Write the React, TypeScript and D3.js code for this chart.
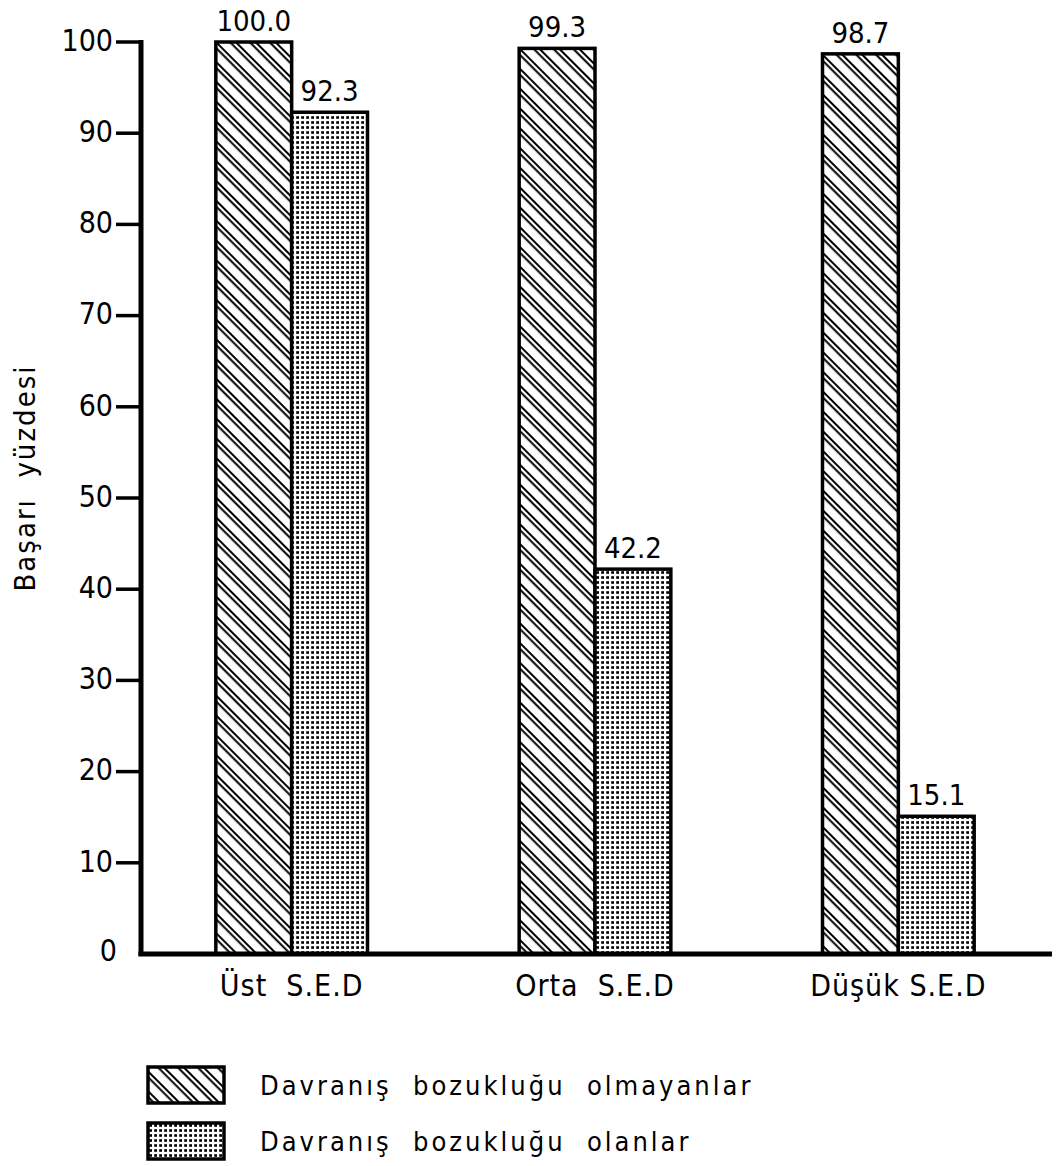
import React from "react";
import * as d3 from "d3";

const categories = ["Üst  S.E.D", "Orta  S.E.D", "Düşük S.E.D"];
const seriesNames = ["Davranış  bozukluğu  olmayanlar", "Davranış  bozukluğu  olanlar"];
const withoutDisorder = [100.0, 99.3, 98.7];
const withDisorder = [92.3, 42.2, 15.1];
const valueLabels = [["100.0", "92.3"], ["99.3", "42.2"], ["98.7", "15.1"]];
const yTicks = [0, 10, 20, 30, 40, 50, 60, 70, 80, 90, 100];

const W = 1056;
const H = 1166;
const FONT = "'DejaVu Sans Condensed', 'DejaVu Sans', sans-serif";

export default function App() {
  const x0 = 141;
  const xEnd = 1052;
  const y = d3.scaleLinear().domain([0, 100]).range([954, 42]);
  const xBand = d3
    .scaleBand()
    .domain(categories)
    .range([140, 1050])
    .paddingInner(0.5)
    .paddingOuter(0.25);
  const inner = d3.scaleBand().domain(["a", "b"]).range([0, xBand.bandwidth()]);
  const series = [withoutDisorder, withDisorder];
  const fills = ["url(#hatch)", "url(#dots)"];

  return (
    <svg width={W} height={H} style={{ display: "block", position: "absolute", left: 0, top: 0, background: "#fff" }}>
      <defs>
        <pattern id="hatch" patternUnits="userSpaceOnUse" width="20" height="14" patternTransform="rotate(45)">
          <rect width="20" height="14" fill="#fff" />
          <line x1="0" y1="3" x2="20" y2="3" stroke="#000" strokeWidth="2" />
          <line x1="0" y1="7.2" x2="20" y2="7.2" stroke="#000" strokeWidth="2" />
        </pattern>
        <pattern id="dots" patternUnits="userSpaceOnUse" width="5" height="5">
          <rect width="5" height="5" fill="#fff" />
          <rect x="1.2" y="1.2" width="2.8" height="2.6" fill="#000" />
        </pattern>
      </defs>

      {/* bars */}
      {categories.map((c, i) =>
        series.map((s, j) => {
          const bx = (xBand(c) as number) + (inner(j === 0 ? "a" : "b") as number);
          const bw = inner.bandwidth();
          const top = y(s[i]);
          return (
            <g key={c + j}>
              <rect x={bx} y={top} width={bw} height={y(0) - top} fill={fills[j]} stroke="#000" strokeWidth={3.5} />
              <text x={bx + bw / 2} y={top - 11} textAnchor="middle" fontFamily={FONT} fontSize={29} fill="#000">
                {valueLabels[i][j]}
              </text>
            </g>
          );
        })
      )}

      {/* axes */}
      <line x1={x0} y1={y(100) - 2} x2={x0} y2={y(0) + 2} stroke="#000" strokeWidth={5} />
      <line x1={x0 - 2.5} y1={y(0)} x2={xEnd} y2={y(0)} stroke="#000" strokeWidth={5} />
      {yTicks.map((t) => (
        <g key={t}>
          {t > 0 && <line x1={x0 - 25} y1={y(t)} x2={x0} y2={y(t)} stroke="#000" strokeWidth={3.5} />}
          <text
            x={t > 0 ? x0 - 28 : x0 - 24}
            y={t > 0 ? y(t) - 2 : y(0) - 4}
            dy="0.36em"
            textAnchor="end"
            fontFamily={FONT}
            fontSize={30}
            fill="#000"
          >
            {t}
          </text>
        </g>
      ))}

      {/* x labels */}
      {categories.map((c) => (
        <text
          key={c}
          x={(xBand(c) as number) + xBand.bandwidth() / 2}
          y={y(0) + 42}
          textAnchor="middle"
          fontFamily={FONT}
          fontSize={30}
          fill="#000"
          style={{ whiteSpace: "pre" }}
          letterSpacing={1}
        >
          {c}
        </text>
      ))}

      {/* y title */}
      <text
        transform={`translate(35, 478) rotate(-90)`}
        textAnchor="middle"
        fontFamily={FONT}
        fontSize={29}
        fill="#000"
        style={{ whiteSpace: "pre" }}
        letterSpacing={2}
      >
        Başarı  yüzdesi
      </text>

      {/* legend */}
      {seriesNames.map((n, j) => (
        <g key={n} transform={`translate(148, ${1067 + j * 56})`}>
          <rect x={0} y={0} width={76} height={36} fill={fills[j]} stroke="#000" strokeWidth={3.5} />
          <text
            x={112}
            y={18}
            dy="0.36em"
            fontFamily={FONT}
            fontSize={27}
            fill="#000"
            style={{ whiteSpace: "pre" }}
            letterSpacing={3}
          >
            {n}
          </text>
        </g>
      ))}
    </svg>
  );
}
